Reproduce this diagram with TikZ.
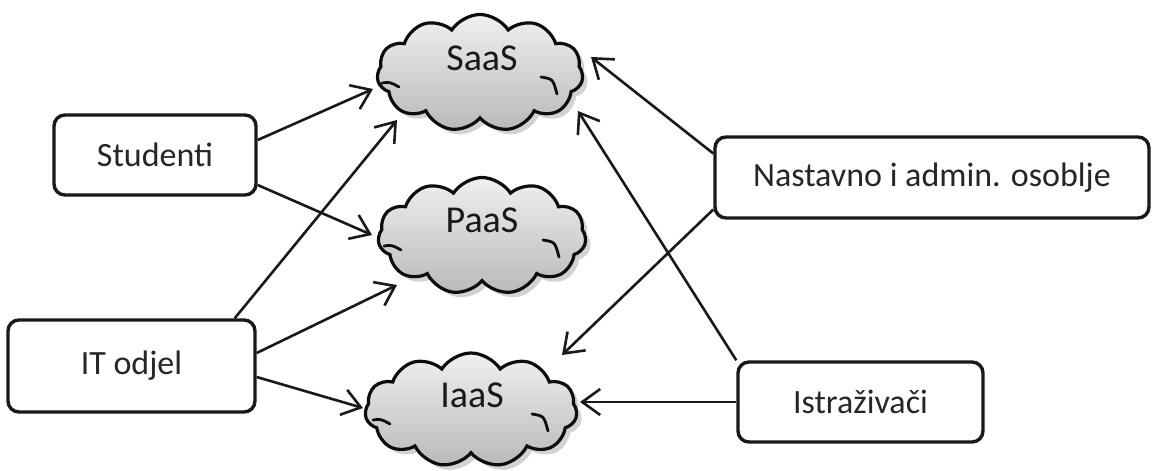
\documentclass[tikz,border=0pt]{standalone}
\usepackage{fontspec}
\setmainfont{Carlito}
\usetikzlibrary{shapes.symbols,arrows.meta,shadows,calc}
\begin{document}
\begin{tikzpicture}[x=1pt,y=-1pt,
  box/.style={draw=black!90, line width=3.4pt, rounded corners=11pt, fill=white,
    font=\fontsize{34}{40}\selectfont, text=black!85, inner sep=0pt},
  cl/.style={cloud, cloud puffs=11, cloud puff arc=115, draw=black!95, line width=3.2pt,
    top color=gray!12, bottom color=gray!55,
    drop shadow={shadow xshift=5pt, shadow yshift=-5pt, fill=gray!70, opacity=0.5},
    inner sep=0pt},
  lbl/.style={font=\fontsize{38}{44}\selectfont, text=black!90, inner sep=0pt},
  inner/.style={draw=black!95, line width=2.8pt, line cap=round},
  arr/.style={draw=black!90, line width=2.6pt, -{Straight Barb[length=18pt,width=26pt,line width=2.6pt]}}]
\useasboundingbox (0,0) rectangle (1152,471);
\fill[white] (0,0) rectangle (1152,471);

% boxes
\node[box, minimum width=202pt, minimum height=80pt] (stud) at (155,155) {Studenti};
\node[box, minimum width=247pt, minimum height=92pt] (it) at (131.5,366) {IT odjel};
\node[box, minimum width=434pt, minimum height=81pt] (nast) at (932,177.5) {Nastavno i admin. osoblje};
\node[box, minimum width=245pt, minimum height=80pt] (istr) at (860.5,402) {Istraživači};

% clouds
\node[cl, minimum width=206pt, minimum height=117pt] (saas) at (480,73) {};
\node[cl, minimum width=208pt, minimum height=117pt] (paas) at (482,236) {};
\node[cl, minimum width=212pt, minimum height=114pt] (iaas) at (471,410) {};

\foreach \c in {saas,paas,iaas}{
  \begin{scope}[shift={(\c.center)}]
    \draw[inner] (61,4) .. controls (73,6) .. (77,21);
    \draw[inner] (-98,10) .. controls (-90,9) .. (-81,14);
  \end{scope}
}

\node[lbl] (saasT) at ($(saas.center)+(2,-15)$) {SaaS};
\node[lbl] (paasT) at ($(paas.center)+(0,-16)$) {PaaS};
\node[lbl] (iaasT) at ($(iaas.center)+(1,-15)$) {IaaS};

% arrows
\draw[arr] ($(stud.east)+(0,-15)$) -- ($(saas.center)+(-107,16)$);
\draw[arr] ($(stud.east)+(0,30)$) -- ($(paas.center)+(-110,-1)$);
\draw[arr] ($(it.north east)+(-22,0)$) -- ($(saas.center)+(-83,47)$);
\draw[arr] ($(it.east)+(0,-13)$) -- ($(paas.center)+(-85,49)$);
\draw[arr] ($(it.east)+(0,11)$) -- ($(iaas.center)+(-108,-2)$);
\draw[arr] ($(nast.west)+(0,-24)$) -- ($(saas.center)+(111,-16)$);
\draw[arr] ($(nast.west)+(0,32)$) -- ($(iaas.center)+(91,-55)$);
\draw[arr] (istr.north west) -- ($(saas.center)+(98,38)$);
\draw[arr] (istr.west) -- ($(iaas.center)+(109,-8)$);
\end{tikzpicture}
\end{document}
